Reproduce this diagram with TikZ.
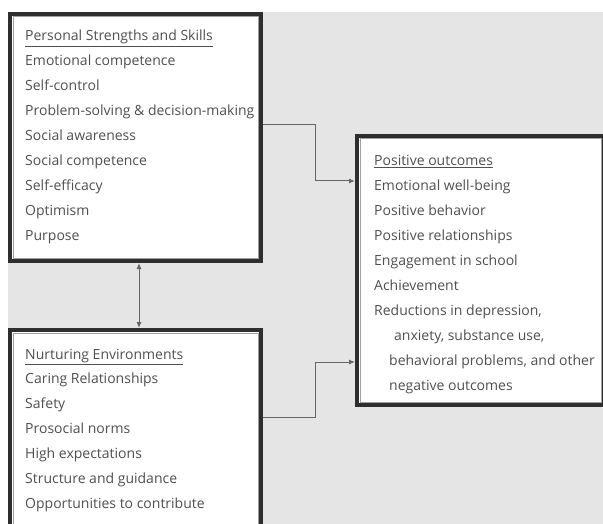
\documentclass[tikz,border=0pt]{standalone}
\usepackage{fontspec}
\setmainfont{Open Sans}
\usetikzlibrary{arrows.meta,calc}
\definecolor{bg}{HTML}{E5E5E5}
\definecolor{bordc}{HTML}{2E2E2E}
\definecolor{innerc}{HTML}{A0A0A0}
\definecolor{txtc}{HTML}{505050}
\definecolor{linec}{HTML}{666666}
\begin{document}
\begin{tikzpicture}[x=1pt,y=-1pt,
  box/.style={draw=bordc, line width=4pt, fill=white, rectangle, inner sep=0pt},
  innerl/.style={draw=innerc, line width=1pt},
  txt/.style={anchor=base west, inner sep=0pt, text=txtc, font=\fontsize{14}{16}\selectfont},
  conn/.style={draw=linec, line width=1pt, -{Latex[length=6pt,width=5pt]}},
  conn2/.style={draw=linec, line width=1pt, {Latex[length=6pt,width=5pt]}-{Latex[length=6pt,width=5pt]}}]
\useasboundingbox (0,0) rectangle (603,524);
\clip (0,0) rectangle (603,524);
\fill[white] (0,0) rectangle (603,524);
\fill[bg] (8,12) rectangle (603,524);
% boxes
\node[box, minimum width=251pt, minimum height=247pt] (top) at (135.5,137.5) {};
\node[box, minimum width=251pt, minimum height=210pt] (bot) at (135.5,435) {};
\node[box, minimum width=247pt, minimum height=269pt] (out) at (480.5,270.5) {};
\foreach \n in {top,bot,out}
  \draw[innerl] ($(\n.north west)+(5,5)$) rectangle ($(\n.south east)+(-5,-5)$);
% texts
\foreach \t [count=\i] in {{\underline{Personal Strengths and Skills}},Emotional competence,Self-control,{Problem-solving \& decision-making},Social awareness,Social competence,Self-efficacy,Optimism,Purpose}
  \node[txt] (ts\i) at (25,{41+24.9*(\i-1)}) {\t};
\foreach \t [count=\i] in {{\underline{Nurturing Environments}},Caring Relationships,Safety,Prosocial norms,High expectations,Structure and guidance,Opportunities to contribute}
  \node[txt] (tb\i) at (25,{359+24.85*(\i-1)}) {\t};
\foreach \t [count=\i] in {{\underline{Positive outcomes}},Emotional well-being,Positive behavior,Positive relationships,Engagement in school,Achievement,{Reductions in depression,}}
  \node[txt] (to\i) at (374,{166+24.9*(\i-1)}) {\t};
\node[txt] (to8) at (394,340.4) {anxiety, substance use,};
\node[txt] (to9) at (389,365.3) {behavioral problems, and other};
\node[txt] (to10) at (389,390.2) {negative outcomes};
% connectors
\coordinate (a1) at (263,125);
\coordinate (a2) at (315,181);
\coordinate (b1) at (263,417);
\coordinate (b2) at (315,362);
\coordinate (v) at (139,0);
\draw[conn] (top.east |- a1) -| (a2) -- (out.west |- a2);
\draw[conn] (bot.east |- b1) -| (b2) -- (out.west |- b2);
\draw[conn2] (top.south -| v) -- (bot.north -| v);
\end{tikzpicture}
\end{document}
